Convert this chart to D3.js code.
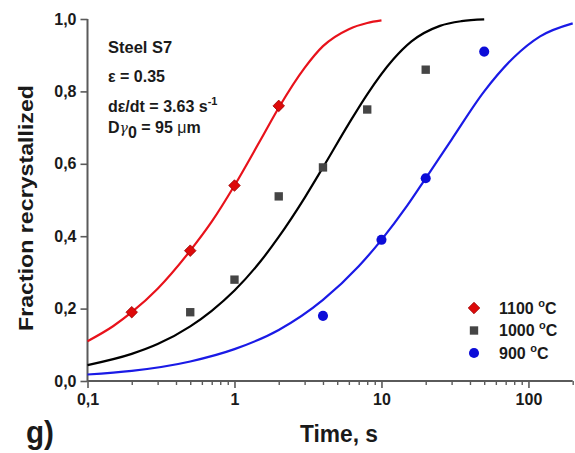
<!DOCTYPE html>
<html>
<head>
<meta charset="utf-8">
<script src="https://cdn.jsdelivr.net/npm/d3@7"></script>
<style>
  html, body { margin: 0; padding: 0; background: #fff; }
  svg { display: block; font-family: "Liberation Sans", Arial, Helvetica, sans-serif; font-weight: bold; }
</style>
</head>
<body>
<svg id="chart" width="575" height="453"></svg>
<script>
// Measured recrystallized fractions (time in s)
const series = ["1100", "1000", "900"];
const time1100 = [0.2, 0.5, 1, 2];
const frac1100 = [0.19, 0.36, 0.54, 0.76];
const time1000 = [0.5, 1, 2, 4, 8, 20];
const frac1000 = [0.19, 0.28, 0.51, 0.59, 0.75, 0.86];
const time900 = [4, 10, 20, 50];
const frac900 = [0.18, 0.39, 0.56, 0.91];

// Fitted (Avrami) curves, sampled along time
const fitTime1100 = [0.1, 0.15, 0.2, 0.3, 0.5, 0.7, 1, 1.5, 2, 3, 4, 6, 8, 10];
const fitFrac1100 = [0.11, 0.152, 0.19, 0.255, 0.36, 0.44, 0.54, 0.665, 0.755, 0.865, 0.925, 0.972, 0.989, 0.996];
const fitTime1000 = [0.1, 0.2, 0.3, 0.5, 0.7, 1, 1.5, 2, 3, 4, 6, 8, 12, 16, 25, 35, 50];
const fitFrac1000 = [0.044, 0.075, 0.102, 0.151, 0.194, 0.25, 0.33, 0.398, 0.506, 0.59, 0.711, 0.792, 0.888, 0.938, 0.981, 0.994, 0.999];
const fitTime900 = [0.1, 0.2, 0.5, 1, 2, 4, 7, 10, 15, 20, 30, 50, 80, 120, 200];
const fitFrac900 = [0.018, 0.028, 0.054, 0.088, 0.141, 0.224, 0.317, 0.39, 0.485, 0.56, 0.667, 0.80, 0.895, 0.952, 0.988];

const yTicks = [0, 0.2, 0.4, 0.6, 0.8, 1.0];
const xMajorTicks = [0.1, 1, 10, 100];
const xMinorTicks = [0.2, 0.3, 0.4, 0.5, 0.6, 0.7, 0.8, 0.9, 2, 3, 4, 5, 6, 7, 8, 9, 20, 30, 40, 50, 60, 70, 80, 90, 200];

const colors = { "1100": "#e8121b", "1000": "#000000", "900": "#1a1ae6" };
const markerFill = { "1100": "#dd0a0a", "1000": "#454545", "900": "#0c0cd8" };

const svg = d3.select("#chart");
const x = d3.scaleLog().domain([0.1, 200]).range([87.5, 572.7]);
const y = d3.scaleLinear().domain([0, 1]).range([381, 19]);

const axisColor = "#5a5a5a";
const commaFmt = v => (v < 1 ? d3.format(".1f")(v) : String(v)).replace(".", ",");

// Y axis
const gy = svg.append("g").attr("transform", `translate(${x.range()[0]},0)`)
  .call(d3.axisLeft(y).tickValues(yTicks).tickSize(7).tickPadding(4)
    .tickFormat(v => d3.format(".1f")(v).replace(".", ",")));
gy.select(".domain").attr("stroke", axisColor).attr("stroke-width", 2).attr("d", `M0,${y(0)}V${y(1)}`);
gy.selectAll(".tick line").attr("stroke", axisColor).attr("stroke-width", 1.6);
gy.selectAll(".tick text").attr("fill", "#1a1a1a").style("font-size", "16px").style("font-weight", "bold")
  .style("font-family", "Liberation Sans, Arial, sans-serif");

// X axis: minor ticks then major ticks with labels
const gxMinor = svg.append("g").attr("transform", `translate(0,${y(0)})`)
  .call(d3.axisBottom(x).tickValues(xMinorTicks).tickSize(4).tickFormat(""));
gxMinor.select(".domain").remove();
gxMinor.selectAll(".tick line").attr("stroke", axisColor).attr("stroke-width", 1.4);

const gx = svg.append("g").attr("transform", `translate(0,${y(0)})`)
  .call(d3.axisBottom(x).tickValues(xMajorTicks).tickSize(7).tickPadding(6).tickFormat(commaFmt));
gx.select(".domain").attr("stroke", axisColor).attr("stroke-width", 2).attr("d", `M${x.range()[0]},0H${x.range()[1]}`);
gx.selectAll(".tick line").attr("stroke", axisColor).attr("stroke-width", 1.6);
gx.selectAll(".tick text").attr("fill", "#1a1a1a").style("font-size", "16px").style("font-weight", "bold")
  .style("font-family", "Liberation Sans, Arial, sans-serif");

// Axis titles and panel label
svg.append("text")
  .attr("transform", `translate(33,${(y(0) + y(1)) / 2 + 8}) rotate(-90)`)
  .attr("text-anchor", "middle")
  .attr("textLength", 246).attr("lengthAdjust", "spacingAndGlyphs")
  .style("font-size", "21px").attr("fill", "#1a1a1a")
  .text("Fraction recrystallized");

svg.append("text")
  .attr("x", 339).attr("y", 442)
  .attr("text-anchor", "middle")
  .attr("textLength", 78).attr("lengthAdjust", "spacingAndGlyphs")
  .style("font-size", "23px").attr("fill", "#1a1a1a")
  .text("Time, s");

svg.append("text")
  .attr("x", 26).attr("y", 443)
  .attr("textLength", 28).attr("lengthAdjust", "spacingAndGlyphs")
  .style("font-size", "32px").attr("fill", "#1a1a1a")
  .text("g)");

// Fitted curves
const line = d3.line().x(d => x(d[0])).y(d => y(d[1])).curve(d3.curveMonotoneX);
const fits = [
  { key: "1100", t: fitTime1100, f: fitFrac1100 },
  { key: "1000", t: fitTime1000, f: fitFrac1000 },
  { key: "900", t: fitTime900, f: fitFrac900 }
];
svg.append("g").selectAll("path").data(fits).join("path")
  .attr("d", d => line(d.t.map((t, i) => [t, d.f[i]])))
  .attr("fill", "none")
  .attr("stroke", d => colors[d.key])
  .attr("stroke-width", 2.2);

// Measured points
const sym = {
  "1100": d3.symbol().type(d3.symbolDiamond2).size(85),
  "1000": d3.symbol().type(d3.symbolSquare).size(70),
  "900": d3.symbol().type(d3.symbolCircle).size(80)
};
const pts = [
  { key: "1100", t: time1100, f: frac1100 },
  { key: "1000", t: time1000, f: frac1000 },
  { key: "900", t: time900, f: frac900 }
];
pts.forEach(s => {
  svg.append("g").selectAll("path").data(s.t.map((t, i) => [t, s.f[i]])).join("path")
    .attr("transform", d => `translate(${x(d[0])},${y(d[1])})`)
    .attr("d", sym[s.key]())
    .attr("fill", markerFill[s.key])
    .attr("stroke", s.key === "1100" ? "#9a0000" : "none")
    .attr("stroke-width", 0.8);
});

// Legend
const legend = svg.append("g").attr("transform", "translate(474,308)");
const legendRows = legend.selectAll("g").data(series).join("g")
  .attr("transform", (d, i) => `translate(0,${i * 22.5})`);
legendRows.append("path")
  .attr("d", d => sym[d]())
  .attr("fill", d => markerFill[d])
  .attr("stroke", d => d === "1100" ? "#9a0000" : "none")
  .attr("stroke-width", 0.8);
const lt = legendRows.append("text").attr("x", 25).attr("y", 5.5)
  .style("font-size", "16px").attr("fill", "#1a1a1a");
lt.append("tspan").text(d => d + " ");
lt.append("tspan").attr("dy", -7).style("font-size", "11px").text("o");
lt.append("tspan").attr("dy", 7).text("C");

// Experimental conditions
const note = svg.append("g").attr("fill", "#1a1a1a");
note.append("text").attr("x", 108).attr("y", 53).style("font-size", "16.5px").text("Steel S7");
note.append("text").attr("x", 108).attr("y", 82).style("font-size", "16px").text("ε = 0.35");
const rate = note.append("text").attr("x", 108).attr("y", 112).style("font-size", "16px");
rate.append("tspan").text("dε/dt = 3.63 s");
rate.append("tspan").attr("dy", -7).style("font-size", "11px").text("-1");
const grain = note.append("text").attr("x", 108).attr("y", 133).style("font-size", "16px");
grain.append("tspan").text("D");
grain.append("tspan").style("font-weight", "normal").style("font-family", "DejaVu Serif, serif").style("font-style", "italic").style("font-size", "14px").text("γ");
grain.append("tspan").attr("dy", 5).text("0");
grain.append("tspan").attr("dy", -5).text(" = 95 ");
grain.append("tspan").style("font-weight", "normal").text("μ");
grain.append("tspan").text("m");
</script>
</body>
</html>
